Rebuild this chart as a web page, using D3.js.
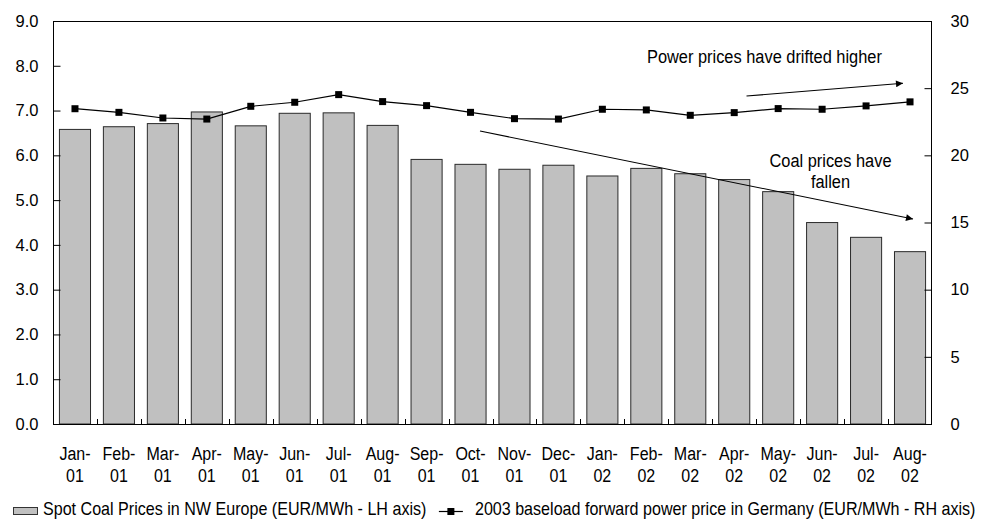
<!DOCTYPE html>
<html>
<head>
<meta charset="utf-8">
<script src="https://cdn.jsdelivr.net/npm/d3@7/dist/d3.min.js"></script>
<style>
  html, body { margin: 0; padding: 0; background: #fff; }
  svg { display: block; }
  text { font-family: "Liberation Sans", Arial, Helvetica, sans-serif; fill: #000; }
</style>
</head>
<body>
<svg id="chart" width="983" height="521"></svg>
<script>
// ---- Data ----
const months = ["Jan-01","Feb-01","Mar-01","Apr-01","May-01","Jun-01","Jul-01","Aug-01","Sep-01","Oct-01",
                "Nov-01","Dec-01","Jan-02","Feb-02","Mar-02","Apr-02","May-02","Jun-02","Jul-02","Aug-02"];
const coalPrices = [6.59, 6.65, 6.72, 6.98, 6.67, 6.95, 6.96, 6.68, 5.92, 5.81,
                    5.70, 5.79, 5.55, 5.72, 5.60, 5.47, 5.20, 4.51, 4.18, 3.86];
const powerPrices = [23.47, 23.2, 22.78, 22.7, 23.65, 23.95, 24.52, 24.0, 23.7, 23.2,
                     22.73, 22.7, 23.43, 23.38, 22.98, 23.18, 23.48, 23.43, 23.68, 23.98];
const leftTicks = [0, 1, 2, 3, 4, 5, 6, 7, 8, 9];
const rightTicks = [0, 5, 10, 15, 20, 25, 30];
const legendLabels = ["Spot Coal Prices in NW Europe (EUR/MWh - LH axis)",
                      "2003 baseload forward power price in Germany (EUR/MWh - RH axis)"];
const annotations = {
  power: ["Power prices have drifted higher"],
  coal: ["Coal prices have", "fallen"]
};

// ---- Layout ----
const svg = d3.select("#chart");
const plot = { left: 53, right: 932, top: 21, bottom: 424 };

const x = d3.scaleBand().domain(months).range([plot.left, plot.right])
  .paddingInner(0.27).paddingOuter(0.135);
const yL = d3.scaleLinear().domain([0, 9]).range([plot.bottom, plot.top]);
const yR = d3.scaleLinear().domain([0, 30]).range([plot.bottom, plot.top]);

function squeeze(sel, k) {
  sel.each(function() {
    const len = this.getComputedTextLength();
    d3.select(this).attr("textLength", len * k).attr("lengthAdjust", "spacingAndGlyphs");
  });
}

// Bars
svg.append("g").selectAll("rect").data(coalPrices).join("rect")
  .attr("x", (d, i) => x(months[i]) + 0.5)
  .attr("y", d => yL(d) + 0.5)
  .attr("width", x.bandwidth() - 1)
  .attr("height", d => yL(0) - yL(d) - 0.5)
  .attr("fill", "#c0c0c0")
  .attr("stroke", "#2a2a2a")
  .attr("stroke-width", 1);

// Plot frame
svg.append("rect")
  .attr("x", plot.left + 0.5).attr("y", plot.top + 0.5)
  .attr("width", plot.right - plot.left - 1).attr("height", plot.bottom - plot.top)
  .attr("fill", "none").attr("stroke", "#000").attr("stroke-width", 1);

// Left axis (ticks inward)
const axL = svg.append("g").attr("transform", `translate(${plot.left + 0.5},0)`)
  .call(d3.axisLeft(yL).tickValues(leftTicks).tickFormat(d3.format(".1f")).tickSizeInner(-7).tickSizeOuter(0).tickPadding(15));
axL.select(".domain").remove();
axL.selectAll(".tick line").attr("stroke", "#000");
axL.selectAll("text").attr("font-size", "16.5px").attr("font-family", null).attr("fill", "#000");

// Right axis (ticks inward)
const axR = svg.append("g").attr("transform", `translate(${plot.right - 0.5},0)`)
  .call(d3.axisRight(yR).tickValues(rightTicks).tickSizeInner(-7).tickSizeOuter(0).tickPadding(19));
axR.select(".domain").remove();
axR.selectAll(".tick line").attr("stroke", "#000");
axR.selectAll("text").attr("font-size", "16.5px").attr("font-family", null).attr("fill", "#000");

// Category boundary ticks at bottom
const bounds = d3.range(1, months.length).map(i => plot.left + i * (plot.right - plot.left) / months.length);
svg.append("g").selectAll("line").data(bounds).join("line")
  .attr("x1", d => Math.round(d) + 0.5).attr("x2", d => Math.round(d) + 0.5)
  .attr("y1", plot.bottom).attr("y2", plot.bottom - 5)
  .attr("stroke", "#000");

// X labels (two lines)
const xl = svg.append("g");
months.forEach(m => {
  const [mon, yr] = m.split("-");
  const cx = x(m) + x.bandwidth() / 2;
  xl.append("text").attr("x", cx).attr("y", 460).attr("text-anchor", "middle")
    .attr("font-size", "18px").text(mon + "-");
  xl.append("text").attr("x", cx).attr("y", 481.5).attr("text-anchor", "middle")
    .attr("font-size", "18px").text(yr);
});
squeeze(xl.selectAll("text"), 0.89);

// Power line
const lineGen = d3.line()
  .x((d, i) => x(months[i]) + x.bandwidth() / 2)
  .y(d => yR(d));
svg.append("path").datum(powerPrices)
  .attr("d", lineGen).attr("fill", "none").attr("stroke", "#000").attr("stroke-width", 1.2);
svg.append("g").selectAll("rect").data(powerPrices).join("rect")
  .attr("x", (d, i) => x(months[i]) + x.bandwidth() / 2 - 3.5)
  .attr("y", d => yR(d) - 3.5)
  .attr("width", 7).attr("height", 7)
  .attr("fill", "#000");

// Arrows
const defs = svg.append("defs");
defs.append("marker").attr("id", "arrow")
  .attr("viewBox", "0 0 10 10").attr("refX", 10).attr("refY", 5)
  .attr("markerWidth", 11).attr("markerHeight", 7).attr("markerUnits", "userSpaceOnUse")
  .attr("orient", "auto")
  .append("path").attr("d", "M0,0 L10,5 L0,10 Z").attr("fill", "#000");

svg.append("line").attr("x1", 746.5).attr("y1", 96).attr("x2", 903).attr("y2", 83.3)
  .attr("stroke", "#000").attr("stroke-width", 1.1).attr("marker-end", "url(#arrow)");
svg.append("line").attr("x1", 480).attr("y1", 131).attr("x2", 913).attr("y2", 219)
  .attr("stroke", "#000").attr("stroke-width", 1.1).attr("marker-end", "url(#arrow)");

// Annotations
const ann = svg.append("g");
ann.append("text").attr("x", 647).attr("y", 63.3).attr("font-size", "18px").text(annotations.power[0]);
annotations.coal.forEach((t, i) => {
  ann.append("text").attr("x", 830.5).attr("y", 167.3 + i * 21).attr("text-anchor", "middle")
    .attr("font-size", "18px").text(t);
});
squeeze(ann.selectAll("text"), 0.91);

// Legend (horizontally condensed via transform)
const lg = svg.append("g");
const legendBase = 515;
const legendK = 0.92;
lg.append("rect").attr("x", 13.5).attr("y", 507.5).attr("width", 24).attr("height", 7)
  .attr("fill", "#c0c0c0").attr("stroke", "#333");
const t1 = lg.append("text").attr("x", 0).attr("y", 0).attr("font-size", "17.5px").text(legendLabels[0]);
const w1 = t1.node().getComputedTextLength() * legendK;
t1.attr("transform", `translate(43,${legendBase}) scale(${legendK},1)`);
const t2 = lg.append("text").attr("x", 0).attr("y", 0).attr("font-size", "17.5px").text(legendLabels[1]);
const w2 = t2.node().getComputedTextLength() * legendK;
const start2 = 976 - w2;
t2.attr("transform", `translate(${start2},${legendBase}) scale(${legendK},1)`);
const end1 = 43 + w1;
const symC = (end1 + start2) / 2;
lg.append("line").attr("x1", symC - 12).attr("x2", symC + 12).attr("y1", 511.5).attr("y2", 511.5)
  .attr("stroke", "#000").attr("stroke-width", 1.2);
lg.append("rect").attr("x", symC - 3.5).attr("y", 511.5 - 3.5).attr("width", 7).attr("height", 7).attr("fill", "#000");
</script>
</body>
</html>
